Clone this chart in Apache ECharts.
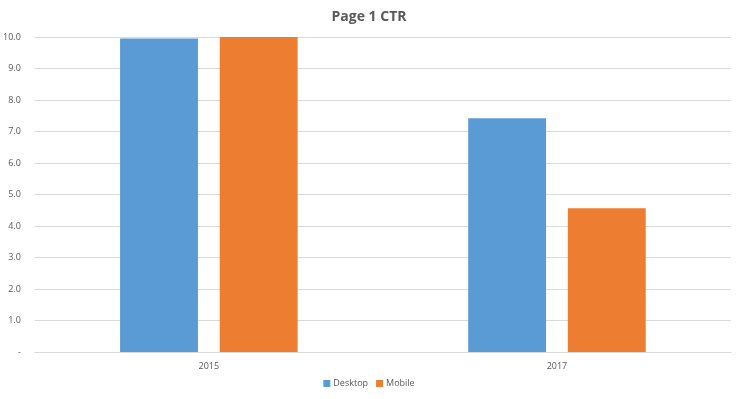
<!DOCTYPE html>
<html><head><meta charset="utf-8">
<script src="https://cdn.jsdelivr.net/npm/echarts@6/dist/echarts.min.js"></script>
<style>html,body{margin:0;padding:0;background:#fff}#c{width:738px;height:399px}</style>
</head><body><div id="c"></div>
<script>
const categories = ['2015', '2017'];
const desktop = [9.95, 7.42];
const mobile = [10.0, 4.56];
const seriesNames = ['Desktop', 'Mobile'];

const chart = echarts.init(document.getElementById('c'));
chart.setOption({
  animation: false,
  textStyle: { fontFamily: 'Open Sans, Liberation Sans, sans-serif' },
  title: { text: 'Page 1 CTR', left: 'center', top: 5,
    textStyle: { fontSize: 14, fontWeight: 'bold', color: '#595959', fontFamily: 'Open Sans, sans-serif' } },
  legend: { data: seriesNames, bottom: 6, left: 'center', itemWidth: 7, itemHeight: 7, itemGap: 8,
    icon: 'rect', textStyle: { fontSize: 9, color: '#595959', padding: [0,0,0,-2] } },
  grid: { left: 34, right: 7, top: 37, bottom: 47 },
  xAxis: { type: 'category', data: categories,
    axisLine: { lineStyle: { color: '#D9D9D9' } }, axisTick: { show: false },
    axisLabel: { fontSize: 9, color: '#595959', margin: 10 } },
  yAxis: { type: 'value', min: 0, max: 10, interval: 1,
    axisLabel: { fontSize: 9, color: '#595959', margin: 14,
      formatter: v => v === 0 ? '-' : v.toFixed(1) },
    splitLine: { lineStyle: { color: '#D9D9D9' } }, axisLine: { show: false }, axisTick: { show: false } },
  series: [
    { name: seriesNames[0], type: 'bar', data: desktop, itemStyle: { color: '#5B9BD5' },
      barGap: '28%', barCategoryGap: '49%' },
    { name: seriesNames[1], type: 'bar', data: mobile, itemStyle: { color: '#ED7D31' } }
  ]
});
</script></body></html>
